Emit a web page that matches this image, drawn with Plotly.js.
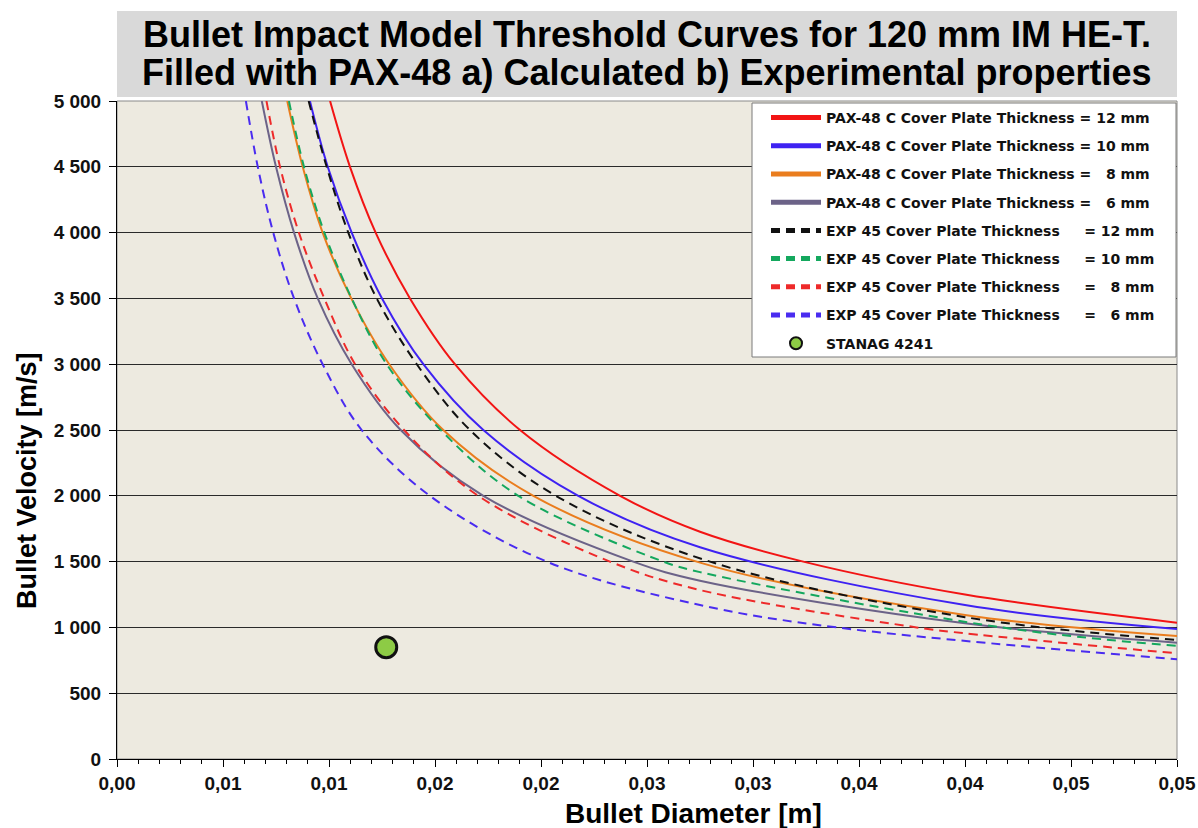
<!DOCTYPE html>
<html>
<head>
<meta charset="utf-8">
<script src="https://cdn.plot.ly/plotly-3.0.1.min.js"></script>
<style>
html,body{margin:0;padding:0;background:#ffffff;}
#chart{width:1198px;height:828px;}
</style>
</head>
<body>
<div id="chart"></div>
<script>
// ---------- data ----------
const NB = '\u00A0';
const titleLine1 = 'Bullet Impact Model Threshold Curves for 120 mm IM HE-T.';
const titleLine2 = 'Filled with PAX-48 a) Calculated b) Experimental properties';
const xTitle = 'Bullet Diameter [m]';
const yTitle = 'Bullet Velocity [m/s]';

const xTickVals = [0, 0.005, 0.01, 0.015, 0.02, 0.025, 0.03, 0.035, 0.04, 0.045, 0.05];
const xTickText = ['0,00','0,01','0,01','0,02','0,02','0,03','0,03','0,04','0,04','0,05','0,05'];
const yTickVals = [0, 500, 1000, 1500, 2000, 2500, 3000, 3500, 4000, 4500, 5000];
const yTickText = ['0','500','1 000','1 500','2 000','2 500','3 000','3 500','4 000','4 500','5 000'];

const seriesNames = [
  'PAX-48 C Cover Plate Thickness = 12 mm',
  'PAX-48 C Cover Plate Thickness = 10 mm',
  'PAX-48 C Cover Plate Thickness =' + NB + NB + NB + '8 mm',
  'PAX-48 C Cover Plate Thickness =' + NB + NB + NB + '6 mm',
  'EXP 45 Cover Plate Thickness' + NB.repeat(5) + '= 12 mm',
  'EXP 45 Cover Plate Thickness' + NB.repeat(5) + '= 10 mm',
  'EXP 45 Cover Plate Thickness' + NB.repeat(5) + '=' + NB + NB + NB + '8 mm',
  'EXP 45 Cover Plate Thickness' + NB.repeat(5) + '=' + NB + NB + NB + '6 mm'
];
const stanagName = 'STANAG 4241';

// bullet diameter [m] / velocity [m/s]
const dPax12 = [0.01005, 0.01099, 0.01220, 0.01382, 0.01594, 0.01901, 0.02373, 0.02750, 0.03237, 0.04000, 0.05000];
const vPax12 = [5000, 4500, 4000, 3500, 3000, 2500, 2000, 1727, 1500, 1250, 1036];

const dPax10 = [0.00910, 0.00994, 0.01107, 0.01250, 0.01445, 0.01728, 0.02176, 0.02750, 0.04000, 0.05000];
const vPax10 = [5000, 4500, 4000, 3500, 3000, 2500, 2000, 1609, 1170, 988];

const dPax8 = [0.00803, 0.00876, 0.00970, 0.01105, 0.01284, 0.01539, 0.01964, 0.02750, 0.04000, 0.05000];
const vPax8 = [5000, 4500, 4000, 3500, 3000, 2500, 2000, 1492, 1095, 935];

const dPax6 = [0.00683, 0.00750, 0.00835, 0.00947, 0.01107, 0.01338, 0.01728, 0.02435, 0.02750, 0.04000, 0.05000];
const vPax6 = [5000, 4500, 4000, 3500, 3000, 2500, 2000, 1500, 1355, 1031, 884];

const dExp12 = [0.00904, 0.00989, 0.01091, 0.01225, 0.01414, 0.01665, 0.02070, 0.02797, 0.04000, 0.05000];
const vExp12 = [5000, 4500, 4000, 3500, 3000, 2500, 2000, 1500, 1078, 904];

const dExp10 = [0.00811, 0.00882, 0.00978, 0.01107, 0.01272, 0.01527, 0.01893, 0.02577, 0.02750, 0.04172, 0.05000];
const vExp10 = [5000, 4500, 4000, 3500, 3000, 2500, 2000, 1500, 1420, 1000, 859];

const dExp8 = [0.00705, 0.00769, 0.00858, 0.00978, 0.01123, 0.01354, 0.01704, 0.02325, 0.02750, 0.03772, 0.04000, 0.05000];
const vExp8 = [5000, 4500, 4000, 3500, 3000, 2500, 2000, 1500, 1284, 1000, 955, 803];

const dExp6 = [0.00608, 0.00664, 0.00737, 0.00835, 0.00970, 0.01154, 0.01476, 0.02027, 0.02750, 0.03395, 0.05000];
const vExp6 = [5000, 4500, 4000, 3500, 3000, 2500, 2000, 1500, 1170, 1000, 758];

const dStanag = [0.0127];
const vStanag = [850];

// ---------- styling ----------
const colors = ['#F21414', '#3E22F2', '#EA7D1E', '#6C6388', '#111111', '#14A85E', '#EE2A2A', '#4A2CF0'];
const dashes = ['solid', 'solid', 'solid', 'solid', '9px,6px', '9px,6px', '9px,6px', '9px,6px'];
const xs = [dPax12, dPax10, dPax8, dPax6, dExp12, dExp10, dExp8, dExp6];
const ys = [vPax12, vPax10, vPax8, vPax6, vExp12, vExp10, vExp8, vExp6];

const traces = xs.map((x, i) => ({
  type: 'scatter', mode: 'lines', x: x, y: ys[i], name: seriesNames[i],
  legendgroup: 'g' + i,
  line: {color: colors[i], width: 2, dash: dashes[i], shape: 'spline', smoothing: 1},
  hoverinfo: 'x+y+name'
}));
traces.push({
  type: 'scatter', mode: 'markers', x: dStanag, y: vStanag, name: stanagName,
  legendgroup: 'g8',
  marker: {color: '#8DCB45', size: 21, line: {color: '#111111', width: 3}}
});

const axisFont = {family: 'Liberation Sans, Arial, sans-serif', size: 19, color: '#111', weight: 'bold'};
const titleFont = {family: 'Liberation Sans, Arial, sans-serif', size: 36, color: '#000', weight: 'bold'};

const layout = {
  width: 1198, height: 828,
  margin: {l: 117, r: 21, t: 101, b: 69, pad: 0},
  paper_bgcolor: '#ffffff',
  plot_bgcolor: '#EDEAE0',
  title: {
    text: titleLine1,
    font: titleFont,
    xref: 'paper', x: 0.5, xanchor: 'center',
    yref: 'container', y: 1 - 34 / 828, yanchor: 'middle'
  },
  xaxis: {
    range: [0, 0.05], tickmode: 'array', tickvals: xTickVals, ticktext: xTickText,
    ticks: 'outside', ticklen: 7, tickwidth: 1, tickcolor: '#000',
    showline: true, linecolor: '#000', linewidth: 1,
    showgrid: false, zeroline: false, tickfont: axisFont,
    minor: {tickmode: 'linear', tick0: 0, dtick: 0.001, ticks: 'outside', ticklen: 4, tickcolor: '#000', showgrid: false},
    fixedrange: true
  },
  yaxis: {
    range: [0, 5000], tickmode: 'array', tickvals: yTickVals, ticktext: yTickText,
    ticks: 'outside', ticklen: 7, tickwidth: 1, tickcolor: '#000',
    showline: true, linecolor: '#000', linewidth: 1,
    showgrid: true, gridcolor: '#2a2a2a', gridwidth: 1, zeroline: false,
    tickfont: axisFont, ticklabelstandoff: 4, fixedrange: true
  },
  showlegend: true,
  legend: {
    x: (766 - 117) / 1060, xanchor: 'left',
    y: (759 - 102) / 658, yanchor: 'top',
    bgcolor: 'rgba(0,0,0,0)', borderwidth: 0,
    traceorder: 'grouped', tracegroupgap: 7,
    itemwidth: 50, itemsizing: 'constant',
    font: {family: 'DejaVu Sans, sans-serif', size: 14, color: '#111', weight: 'bold'}
  },
  shapes: [
    {type: 'rect', xref: 'paper', yref: 'paper', x0: 0, x1: 1, y0: (759 - 97) / 658, y1: (759 - 11) / 658,
     fillcolor: '#D9D9D9', line: {width: 0}, layer: 'below'},
    {type: 'rect', xref: 'paper', yref: 'paper', x0: 0, x1: 1, y0: 0, y1: 1,
     fillcolor: 'rgba(0,0,0,0)', line: {color: '#8a8a8a', width: 1}, layer: 'below'},
    {type: 'rect', xref: 'paper', yref: 'paper', x0: (752 - 117) / 1060, x1: (1176 - 117) / 1060,
     y0: (759 - 357) / 658, y1: (759 - 103) / 658,
     fillcolor: '#ffffff', line: {color: '#7a7a7a', width: 1}, layer: 'above'}
  ],
  annotations: [
    {text: titleLine2, xref: 'paper', yref: 'paper', x: 0.5, y: (759 - 73) / 658,
     xanchor: 'center', yanchor: 'middle', showarrow: false, font: titleFont},
    {text: xTitle, xref: 'paper', yref: 'paper', x: (693 - 117) / 1060, y: (759 - 813) / 658,
     xanchor: 'center', yanchor: 'middle', showarrow: false,
     font: {family: 'Liberation Sans, Arial, sans-serif', size: 28, color: '#000', weight: 'bold'}},
    {text: yTitle, xref: 'paper', yref: 'paper', x: (27 - 117) / 1060, y: (759 - 481) / 658,
     xanchor: 'center', yanchor: 'middle', showarrow: false, textangle: -90,
     font: {family: 'Liberation Sans, Arial, sans-serif', size: 27, color: '#000', weight: 'bold'}}
  ]
};

Plotly.newPlot('chart', traces, layout, {displayModeBar: false, staticPlot: true});
</script>
</body>
</html>
